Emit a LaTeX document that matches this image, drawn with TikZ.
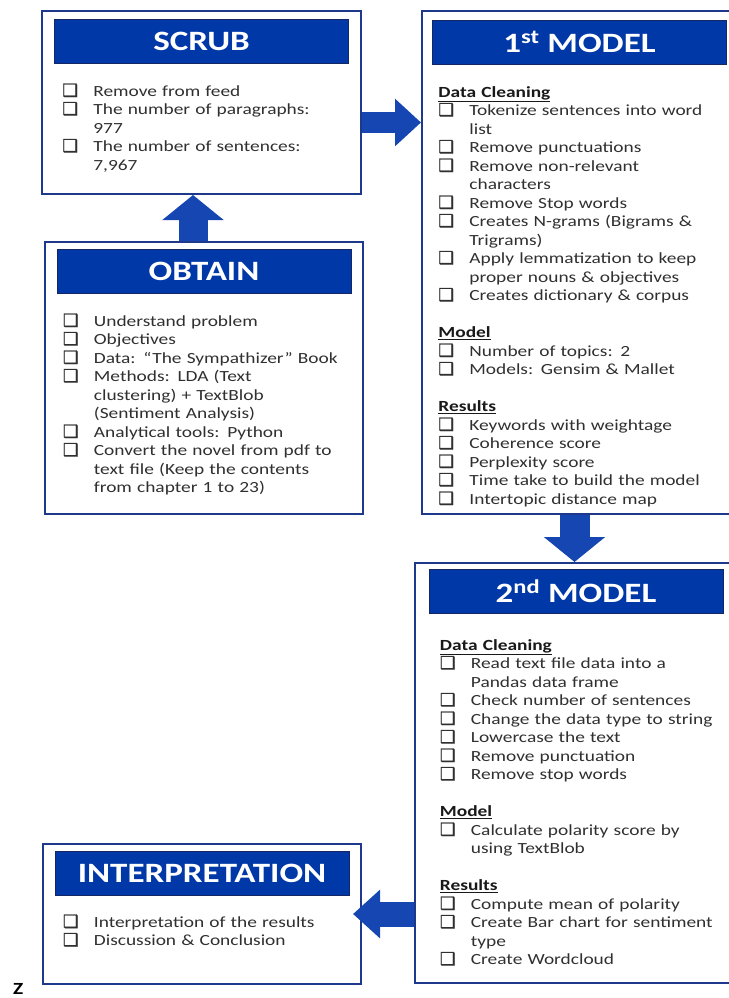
\documentclass[tikz,border=0pt]{standalone}
\usepackage{fontspec}
\setmainfont{Carlito}[FakeStretch=1.25]
\newfontfamily\boxfont{DejaVu Sans}[FakeBold=1]
\usetikzlibrary{positioning,arrows.meta}

\definecolor{headblue}{RGB}{0,56,168}
\definecolor{edgeblue}{RGB}{30,56,140}
\definecolor{arrowblue}{RGB}{22,70,178}
\definecolor{bodygray}{RGB}{48,48,48}

% one check box item, wrapped lines hang under the text
\newcommand{\chk}{\par\noindent\hangindent=31pt\hangafter=1\makebox[31pt][l]{\boxfont\fontsize{17.5}{18.5}\selectfont\char"2751}}
\newcommand{\sect}[1]{\par\noindent{\color{black!90}\underline{\textbf{#1}}}}
\newcommand{\gap}{\par\vspace{18.5pt}}

\tikzset{
  panel/.style={draw=edgeblue, line width=2pt, fill=white, inner sep=0pt, anchor=north west},
  header/.style={fill=headblue, draw=edgeblue!70!black, line width=0.6pt, text=white,
    font=\fontsize{28}{32}\selectfont\bfseries, minimum width=294pt, minimum height=44pt, inner sep=0pt},
  itemtext/.style={anchor=north west, text width=300pt, inner sep=0pt, text=bodygray,
    font=\fontsize{15.5}{18.5}\selectfont},
  bigarrow/.style n args={3}{draw=arrowblue, line width=#1, -{Triangle[width=#2,length=#3]}},
}

\begin{document}
\begin{tikzpicture}[x=1pt,y=1pt]
\useasboundingbox (0,0) rectangle (728,-998);

%panels
\node[panel, minimum width=319pt, minimum height=183pt] (scrub) at (41,-10) {};
\node[panel, minimum width=318pt, minimum height=272pt] (obtain) at (44,-241) {};
\node[panel, minimum width=315pt, minimum height=503pt] (first) at (421,-10) {};
\node[panel, minimum width=322pt, minimum height=420pt] (second) at (414,-562) {};
\node[panel, minimum width=318pt, minimum height=140pt] (interp) at (42,-843) {};

%headers
\node[header, below=9pt of scrub.north] (scrubhead) {SCRUB};
\node[header, below=8pt of obtain.north] (obtainhead) {OBTAIN};
\node[header, below=10pt of first.north] (firsthead) {1\textsuperscript{st} MODEL};
\node[header, below=7pt of second.north] (secondhead) {2\textsuperscript{nd} MODEL};
\node[header, below=8pt of interp.north] (interphead) {INTERPRETATION};

%item lists
\node[itemtext] (scrubtext) at ([xshift=8pt,yshift=-14pt]scrubhead.south west) {%
  \chk Remove from feed
  \chk The number of paragraphs:\newline 977
  \chk The number of sentences:\newline 7,967\par};

\node[itemtext] (obtaintext) at ([xshift=6pt,yshift=-14pt]obtainhead.south west) {%
  \chk Understand problem
  \chk Objectives
  \chk Data: “The Sympathizer” Book
  \chk Methods: LDA (Text\newline clustering) + TextBlob\newline (Sentiment Analysis)
  \chk Analytical tools: Python
  \chk Convert the novel from pdf to\newline text file (Keep the contents\newline from chapter 1 to 23)\par};

\node[itemtext] (firsttext) at ([xshift=6pt,yshift=-14pt]firsthead.south west) {%
  \sect{Data Cleaning}
  \chk Tokenize sentences into word\newline list
  \chk Remove punctuations
  \chk Remove non-relevant\newline characters
  \chk Remove Stop words
  \chk Creates N-grams (Bigrams \&\newline Trigrams)
  \chk Apply lemmatization to keep\newline proper nouns \& objectives
  \chk Creates dictionary \& corpus
  \gap
  \sect{Model}
  \chk Number of topics: 2
  \chk Models: Gensim \& Mallet
  \gap
  \sect{Results}
  \chk Keywords with weightage
  \chk Coherence score
  \chk Perplexity score
  \chk Time take to build the model
  \chk Intertopic distance map\par};

\node[itemtext] (secondtext) at ([xshift=11pt,yshift=-18pt]secondhead.south west) {%
  \sect{Data Cleaning}
  \chk Read text file data into a\newline Pandas data frame
  \chk Check number of sentences
  \chk Change the data type to string
  \chk Lowercase the text
  \chk Remove punctuation
  \chk Remove stop words
  \gap
  \sect{Model}
  \chk Calculate polarity score by\newline using TextBlob
  \gap
  \sect{Results}
  \chk Compute mean of polarity
  \chk Create Bar chart for sentiment\newline type
  \chk Create Wordcloud\par};

\node[itemtext] (interptext) at ([xshift=8pt,yshift=-13pt]interphead.south west) {%
  \chk Interpretation of the results
  \chk Discussion \& Conclusion\par};

%block arrows
\draw[bigarrow={29pt}{60pt}{25pt}] ([xshift=-11pt]obtain.north) -- ([xshift=-11pt]obtain.north |- scrub.south);
\draw[bigarrow={21pt}{46pt}{26pt}] ([yshift=-20pt]scrub.east) -- ([yshift=-20pt]scrub.east -| first.west);
\draw[bigarrow={30pt}{60pt}{25pt}] ([xshift=-5pt]first.south) -- ([xshift=-5pt]first.south |- second.north);
\draw[bigarrow={25pt}{47pt}{27pt}] (second.west |- interp.east) -- ([xshift=-9pt]interp.east);

\node[anchor=base west, inner sep=0pt, font=\fontsize{17}{20}\selectfont\bfseries] (zmark) at (13,-994) {Z};
\end{tikzpicture}
\end{document}
